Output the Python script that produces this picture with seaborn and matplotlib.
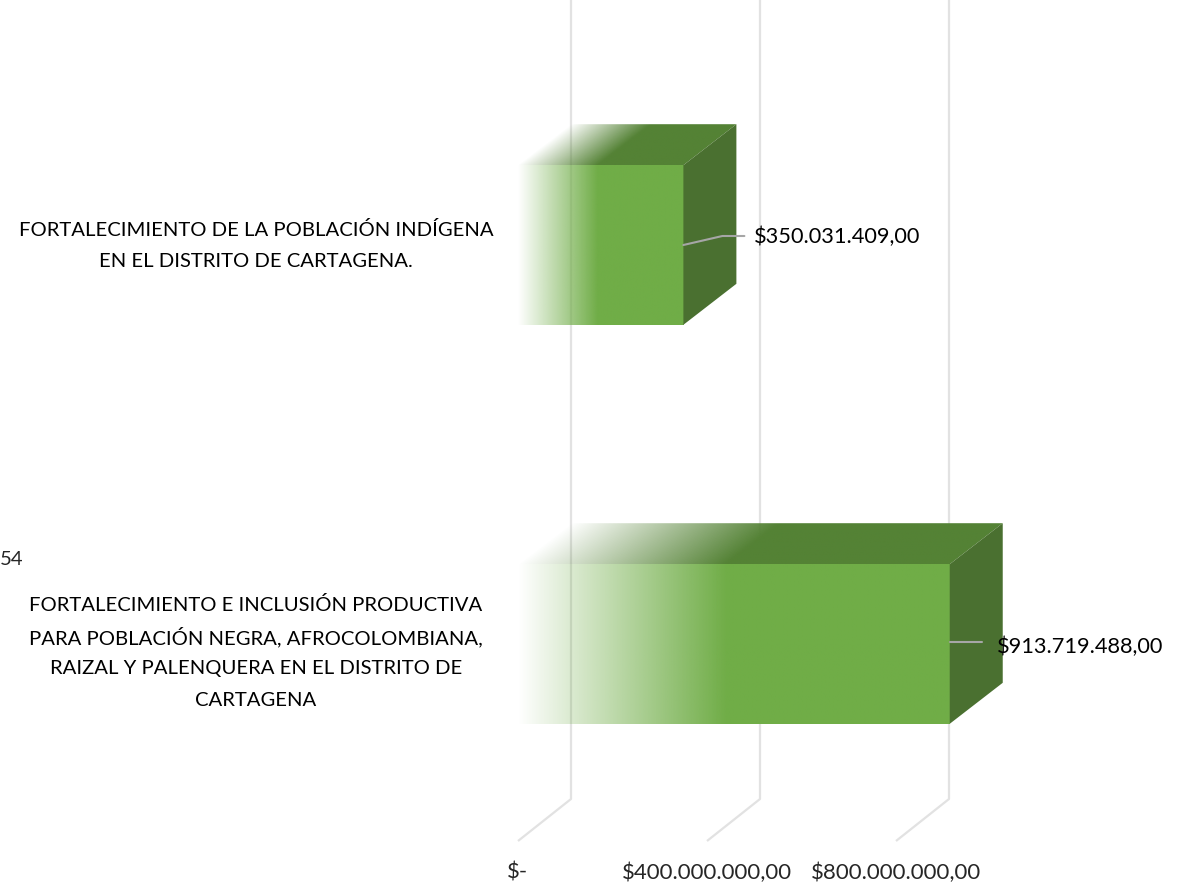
import numpy as np
import matplotlib
matplotlib.use("Agg")
import matplotlib.pyplot as plt
import seaborn as sns
from matplotlib.patches import Polygon

# datos
categorias = [
    "FORTALECIMIENTO DE LA POBLACIÓN INDÍGENA\nEN EL DISTRITO DE CARTAGENA.",
    "FORTALECIMIENTO E INCLUSIÓN PRODUCTIVA\nPARA POBLACIÓN NEGRA, AFROCOLOMBIANA,\nRAIZAL Y PALENQUERA EN EL DISTRITO DE\nCARTAGENA",
]
valores = [350031409.00, 913719488.00]
ticks = [0, 400000000, 800000000]
tick_labels = ["$-", "$400.000.000,00", "$800.000.000,00"]


def pesos(v):
    s = "{:,.2f}".format(v)
    return "$" + s.replace(",", "X").replace(".", ",").replace("X", ".")


sns.set_style("white")
plt.rcParams["font.family"] = ["Lato", "DejaVu Sans"]

W, H = 1181, 887
fig = plt.figure(figsize=(W / 100, H / 100), dpi=100)
ax = fig.add_axes([0, 0, 1, 1])

# escala en pixeles
upx = 400e6 / 189.0          # valor por pixel en x
x0px = 518
ypx = 399.0                  # pixeles entre categorias
c0 = 246.0                   # centro de la primera categoria
xlim = (-x0px * upx, (W - x0px) * upx)
ylim = ((H - c0) / ypx, -c0 / ypx)

def dx(p):
    return p * upx

def dy(p):
    return p / ypx

def ypos(p):
    return (p - c0) / ypx

depth_x = dx(53)
depth_y = dy(41)

verde = np.array(matplotlib.colors.to_rgb("#70AD47"))
verde_top = np.array(matplotlib.colors.to_rgb("#548235"))
verde_lado = "#4A7030"
grid_col = "#E2E2E2"

# lineas de cuadricula (3D)
y_back_bot = ypos(800)
y_front_bot = ypos(842)
for v in ticks:
    ax.plot([v + depth_x, v + depth_x, v], [ylim[1], y_back_bot, y_front_bot],
            color=grid_col, lw=1.6, zorder=1, solid_capstyle="butt")

sns.barplot(x=valores, y=list(range(len(valores))), orient="h", width=0.4,
            color="#70AD47", ax=ax, zorder=2)

ramp = 0.48
for i, p in enumerate(ax.patches):
    x0 = p.get_x()
    w = p.get_width()
    yt = p.get_y()               # borde superior (eje invertido)
    yb = yt + p.get_height()
    p.set_visible(False)

    # cara frontal con degradado
    n = 400
    t = np.linspace(0, 1, n)
    img = np.zeros((1, n, 4))
    img[..., :3] = verde
    img[0, :, 3] = np.clip(t / ramp, 0, 1)
    ax.imshow(img, extent=(x0, x0 + w, yb, yt), aspect="auto",
              interpolation="bilinear", zorder=3)

    # cara superior con degradado
    poly_top = Polygon([(x0, yt), (x0 + w, yt), (x0 + w + depth_x, yt - depth_y),
                        (x0 + depth_x, yt - depth_y)], closed=True,
                       facecolor="none", edgecolor="none", transform=ax.transData)
    ax.add_patch(poly_top)
    m = 60
    xs = np.linspace(x0, x0 + w + depth_x, n)
    fr = np.linspace(1, 0, m)[:, None]
    tt = (xs[None, :] - x0 - fr * depth_x) / w
    img2 = np.zeros((m, n, 4))
    img2[..., :3] = verde_top
    img2[..., 3] = np.clip(tt / ramp, 0, 1)
    im2 = ax.imshow(img2, extent=(x0, x0 + w + depth_x, yt, yt - depth_y),
                    aspect="auto", interpolation="bilinear", zorder=3)
    im2.set_clip_path(poly_top)

    # cara lateral
    ax.add_patch(Polygon([(x0 + w, yt), (x0 + w + depth_x, yt - depth_y),
                          (x0 + w + depth_x, yb - depth_y), (x0 + w, yb)],
                         closed=True, facecolor=verde_lado, edgecolor="none",
                         zorder=3))

# etiquetas de datos con lineas guia
guias = [([0, 39, 61], [0, -9, -9], 71, -9), ([0, 32], [-2, -2], 47, 2)]
for i, v in enumerate(valores):
    gx, gy, tx, ty = guias[i]
    ax.plot([v + dx(a) for a in gx], [i + dy(b) for b in gy], color="#A6A6A6",
            lw=1.5, zorder=5)
    ax.text(v + dx(tx), i + dy(ty), pesos(v), ha="left", va="center",
            fontsize=15.7, color="#000000", zorder=6)

# nombres de categorias (una linea por texto, 32 px entre lineas)
for i, c in enumerate(categorias):
    lineas = c.split("\n")
    centro = i + dy(8 * i)
    for k, ln in enumerate(lineas):
        off = (k - (len(lineas) - 1) / 2.0) * 32
        ax.text(dx(256 - x0px), centro + dy(off), ln, ha="center", va="center",
                fontsize=14.6, color="#000000")

ax.text(dx(0 - x0px), ypos(560), "54", ha="left", va="center", fontsize=14.6)

# etiquetas del eje x
for v, lab in zip(ticks, tick_labels):
    ax.text(v, ypos(873), lab, ha="center", va="center", fontsize=16)

ax.set_xlim(*xlim)
ax.set_ylim(*ylim)
ax.axis("off")

fig.savefig("out.png", dpi=100, facecolor="white")
